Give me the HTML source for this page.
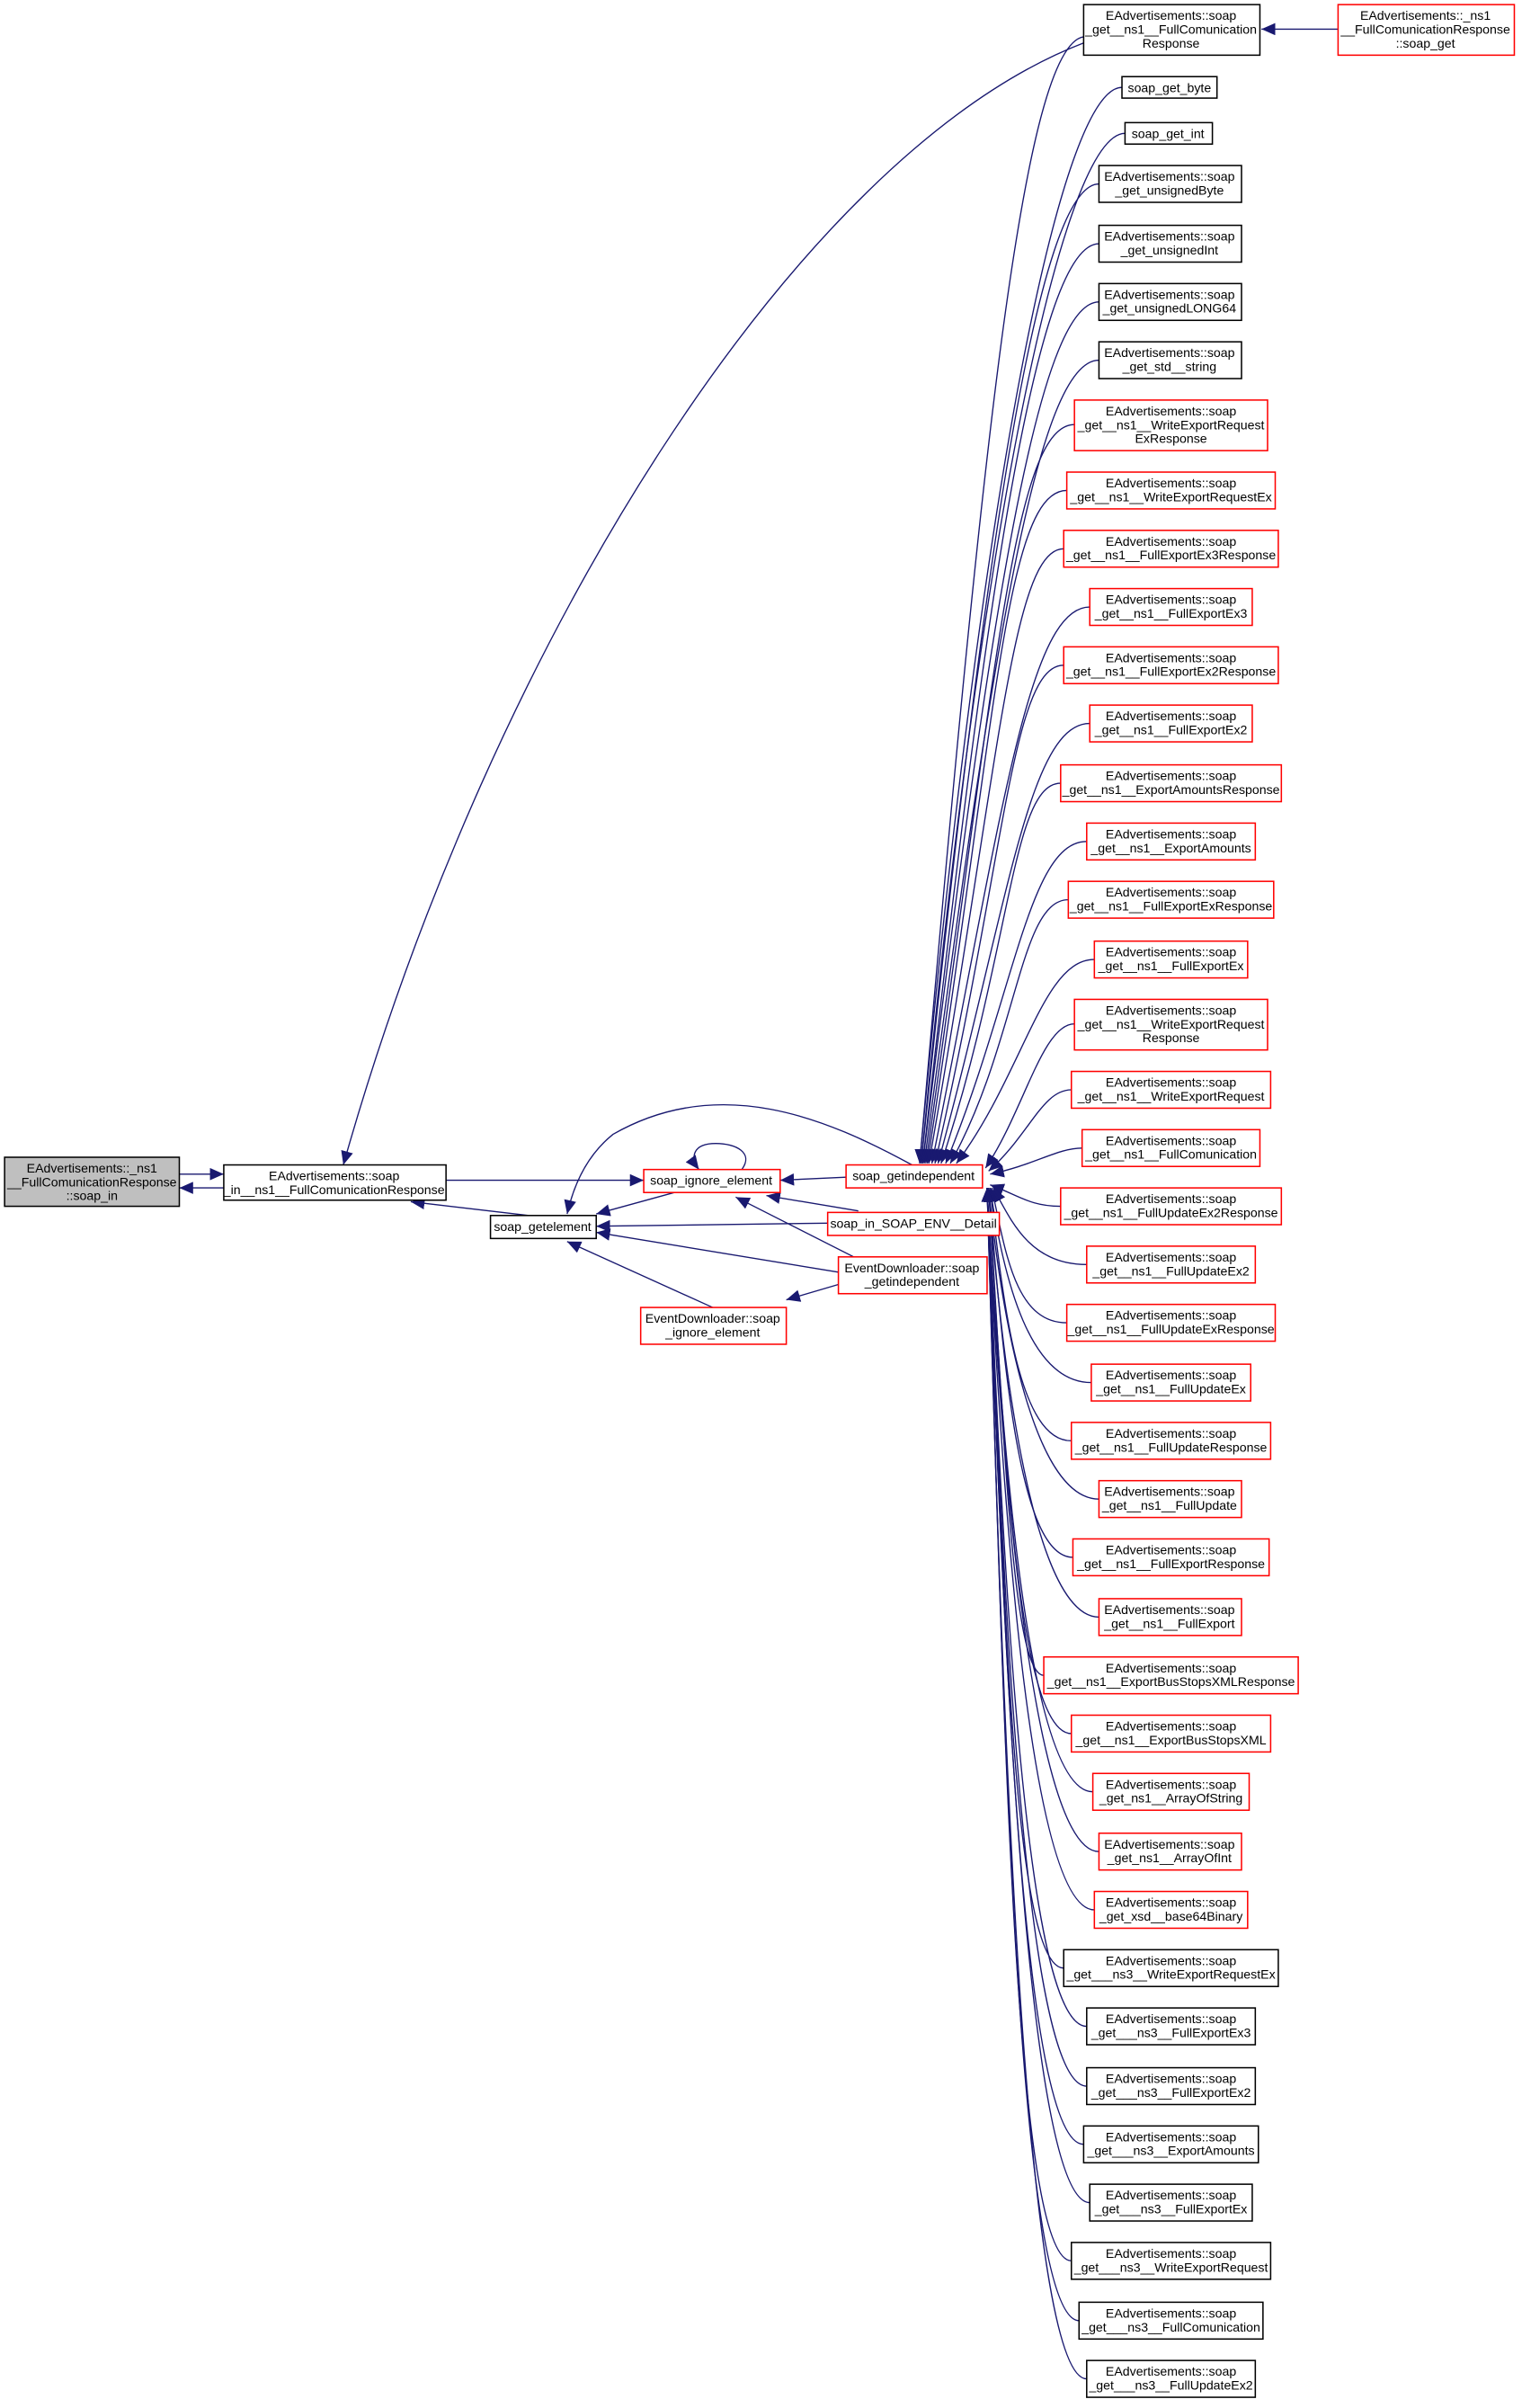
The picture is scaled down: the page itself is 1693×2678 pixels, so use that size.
<!DOCTYPE html>
<html><head><meta charset="utf-8"><style>
html,body{margin:0;padding:0;background:#fff;}
svg{display:block;}
text{font-family:"Liberation Sans",sans-serif;font-size:8.3px;fill:#000;text-anchor:middle;}
.b{fill:#fff;stroke:#000;stroke-width:0.9;}
.r{fill:#fff;stroke:#ff0000;stroke-width:0.9;}
.g{fill:#bfbfbf;stroke:#000;stroke-width:0.9;}
.e{fill:none;stroke:#191970;stroke-width:0.8;}
</style></head><body>
<svg width="1693" height="2678" viewBox="0 0 993 1571" preserveAspectRatio="none">
<defs><marker id="a" markerUnits="userSpaceOnUse" markerWidth="10" markerHeight="8" refX="9" refY="4" orient="auto"><path d="M0,0 L9,4 L0,8 z" fill="#191970"/></marker></defs>

<g class="e" marker-end="url(#a)">
<path d="M707,24 C667,30 640,300 600,759"/>
<path d="M732,57 C692,57 640,320 600,759"/>
<path d="M734,87 C694,87 640,340 601,759"/>
<path d="M717,120 C677,120 642,360 601,759"/>
<path d="M717,159 C677,159 644,380 602,759"/>
<path d="M717,197 C677,197 646,400 602,759"/>
<path d="M717,235 C677,235 648,420 603,759"/>
<path d="M701,277 C661,277 650,440 604,759"/>
<path d="M696,320 C656,320 650,470 605,759"/>
<path d="M694,358 C660,358 652,500 606,759"/>
<path d="M711,396 C671,396 654,530 608,759"/>
<path d="M694,434 C660,434 656,560 610,759"/>
<path d="M711,472 C671,472 658,590 612,759"/>
<path d="M692,511 C660,511 660,620 614,759"/>
<path d="M709,549 C671,549 662,650 617,759"/>
<path d="M697,587 C665,587 664,680 620,759"/>
<path d="M714,626 C680,626 668,700 624,759"/>
<path d="M701,668 C680,668 668,725 643,762"/>
<path d="M699,711 C680,711 672,740 645,764"/>
<path d="M706,749 C690,749 675,760 646,766"/>
<path d="M692,787 C672,787 665,780 646,773"/>
<path d="M709,825 C672,825 660,797 648,775"/>
<path d="M696,863 C662,863 656,816 647,775"/>
<path d="M712,902 C672,902 655,836 646,775"/>
<path d="M699,940 C665,940 655,855 646,775"/>
<path d="M717,978 C677,978 655,874 645,775"/>
<path d="M700,1016 C665,1016 655,893 645,775"/>
<path d="M717,1055 C677,1055 655,912 645,775"/>
<path d="M681,1093 C660,1093 655,931 645,775"/>
<path d="M699,1131 C665,1131 655,950 645,775"/>
<path d="M713,1169 C673,1169 655,969 644,775"/>
<path d="M717,1208 C677,1208 655,989 644,775"/>
<path d="M714,1246 C674,1246 655,1008 644,775"/>
<path d="M694,1284 C660,1284 655,1027 644,775"/>
<path d="M709,1322 C670,1322 655,1046 644,775"/>
<path d="M709,1361 C670,1361 655,1065 644,775"/>
<path d="M707,1399 C668,1399 655,1084 644,775"/>
<path d="M711,1437 C672,1437 655,1103 644,775"/>
<path d="M699,1475 C662,1475 655,1122 644,775"/>
<path d="M704,1514 C665,1514 655,1142 644,775"/>
<path d="M709,1552 C670,1552 655,1161 644,775"/>
</g>

<g class="e" marker-end="url(#a)">
<path d="M873,19 L823,19"/>
<path d="M707,28 C520,100 320,420 224,760"/>
<path d="M117,766 L146,766"/>
<path d="M146,775 L117,775"/>
<path d="M291,770 L420,770"/>
<path d="M345,793 L268,784"/>
<path d="M440,778 L389,792"/>
<path d="M552,768 L509,770"/>
<path d="M540,798 L389,800"/>
<path d="M560,790 L500,780"/>
<path d="M557,820 L480,781"/>
<path d="M547,830 L389,804"/>
<path d="M465,853 L370,810"/>
<path d="M547,838 L513,848"/>
<path d="M595,760 C540,730 470,700 400,740 C385,752 375,770 370,792"/>
<path d="M484,763 C492,752 480,746 467,746 C452,746 450,755 456,763"/>
</g>

<rect class="g" x="3" y="755" width="114" height="32"/>
<text x="60" y="765">EAdvertisements::_ns1</text><text x="60" y="774">__FullComunicationResponse</text><text x="60" y="783">::soap_in</text>

<rect class="b" x="146" y="760" width="145" height="23"/>
<text x="218" y="770">EAdvertisements::soap</text><text x="218" y="779">_in__ns1__FullComunicationResponse</text>

<rect class="b" x="320" y="793" width="69" height="15"/>
<text x="354" y="803">soap_getelement</text>

<rect class="r" x="420" y="763" width="89" height="15"/>
<text x="464" y="773">soap_ignore_element</text>

<rect class="r" x="552" y="760" width="89" height="15"/>
<text x="596" y="770">soap_getindependent</text>

<rect class="r" x="540" y="791" width="112" height="15"/>
<text x="596" y="801">soap_in_SOAP_ENV__Detail</text>

<rect class="r" x="547" y="820" width="97" height="24"/>
<text x="595" y="830">EventDownloader::soap</text><text x="595" y="839">_getindependent</text>

<rect class="r" x="418" y="853" width="95" height="24"/>
<text x="465" y="863">EventDownloader::soap</text><text x="465" y="872">_ignore_element</text>

<rect class="b" x="707" y="3" width="115" height="33"/>
<text x="764" y="13">EAdvertisements::soap</text><text x="764" y="22">_get__ns1__FullComunication</text><text x="764" y="31">Response</text>

<rect class="r" x="873" y="3" width="115" height="33"/>
<text x="930" y="13">EAdvertisements::_ns1</text><text x="930" y="22">__FullComunicationResponse</text><text x="930" y="31">::soap_get</text>

<rect class="b" x="732" y="50" width="62" height="14"/><text x="763" y="60">soap_get_byte</text>
<rect class="b" x="734" y="80" width="57" height="14"/><text x="762" y="90">soap_get_int</text>

<g>
<rect class="b" x="717" y="108" width="93" height="24"/><text x="763" y="118">EAdvertisements::soap</text><text x="763" y="127">_get_unsignedByte</text>
<rect class="b" x="717" y="147" width="93" height="24"/><text x="763" y="157">EAdvertisements::soap</text><text x="763" y="166">_get_unsignedInt</text>
<rect class="b" x="717" y="185" width="93" height="24"/><text x="763" y="195">EAdvertisements::soap</text><text x="763" y="204">_get_unsignedLONG64</text>
<rect class="b" x="717" y="223" width="93" height="24"/><text x="763" y="233">EAdvertisements::soap</text><text x="763" y="242">_get_std__string</text>

<rect class="r" x="701" y="261" width="126" height="33"/><text x="764" y="271">EAdvertisements::soap</text><text x="764" y="280">_get__ns1__WriteExportRequest</text><text x="764" y="289">ExResponse</text>
<rect class="r" x="696" y="308" width="136" height="24"/><text x="764" y="318">EAdvertisements::soap</text><text x="764" y="327">_get__ns1__WriteExportRequestEx</text>
<rect class="r" x="694" y="346" width="140" height="24"/><text x="764" y="356">EAdvertisements::soap</text><text x="764" y="365">_get__ns1__FullExportEx3Response</text>
<rect class="r" x="711" y="384" width="106" height="24"/><text x="764" y="394">EAdvertisements::soap</text><text x="764" y="403">_get__ns1__FullExportEx3</text>
<rect class="r" x="694" y="422" width="140" height="24"/><text x="764" y="432">EAdvertisements::soap</text><text x="764" y="441">_get__ns1__FullExportEx2Response</text>
<rect class="r" x="711" y="460" width="106" height="24"/><text x="764" y="470">EAdvertisements::soap</text><text x="764" y="479">_get__ns1__FullExportEx2</text>
<rect class="r" x="692" y="499" width="144" height="24"/><text x="764" y="509">EAdvertisements::soap</text><text x="764" y="518">_get__ns1__ExportAmountsResponse</text>
<rect class="r" x="709" y="537" width="110" height="24"/><text x="764" y="547">EAdvertisements::soap</text><text x="764" y="556">_get__ns1__ExportAmounts</text>
<rect class="r" x="697" y="575" width="134" height="24"/><text x="764" y="585">EAdvertisements::soap</text><text x="764" y="594">_get__ns1__FullExportExResponse</text>
<rect class="r" x="714" y="614" width="100" height="24"/><text x="764" y="624">EAdvertisements::soap</text><text x="764" y="633">_get__ns1__FullExportEx</text>
<rect class="r" x="701" y="652" width="126" height="33"/><text x="764" y="662">EAdvertisements::soap</text><text x="764" y="671">_get__ns1__WriteExportRequest</text><text x="764" y="680">Response</text>
<rect class="r" x="699" y="699" width="130" height="24"/><text x="764" y="709">EAdvertisements::soap</text><text x="764" y="718">_get__ns1__WriteExportRequest</text>
<rect class="r" x="706" y="737" width="116" height="24"/><text x="764" y="747">EAdvertisements::soap</text><text x="764" y="756">_get__ns1__FullComunication</text>
<rect class="r" x="692" y="775" width="144" height="24"/><text x="764" y="785">EAdvertisements::soap</text><text x="764" y="794">_get__ns1__FullUpdateEx2Response</text>
<rect class="r" x="709" y="813" width="110" height="24"/><text x="764" y="823">EAdvertisements::soap</text><text x="764" y="832">_get__ns1__FullUpdateEx2</text>
<rect class="r" x="696" y="851" width="136" height="24"/><text x="764" y="861">EAdvertisements::soap</text><text x="764" y="870">_get__ns1__FullUpdateExResponse</text>
<rect class="r" x="712" y="890" width="104" height="24"/><text x="764" y="900">EAdvertisements::soap</text><text x="764" y="909">_get__ns1__FullUpdateEx</text>
<rect class="r" x="699" y="928" width="130" height="24"/><text x="764" y="938">EAdvertisements::soap</text><text x="764" y="947">_get__ns1__FullUpdateResponse</text>
<rect class="r" x="717" y="966" width="93" height="24"/><text x="763" y="976">EAdvertisements::soap</text><text x="763" y="985">_get__ns1__FullUpdate</text>
<rect class="r" x="700" y="1004" width="128" height="24"/><text x="764" y="1014">EAdvertisements::soap</text><text x="764" y="1023">_get__ns1__FullExportResponse</text>
<rect class="r" x="717" y="1043" width="93" height="24"/><text x="763" y="1053">EAdvertisements::soap</text><text x="763" y="1062">_get__ns1__FullExport</text>
<rect class="r" x="681" y="1081" width="166" height="24"/><text x="764" y="1091">EAdvertisements::soap</text><text x="764" y="1100">_get__ns1__ExportBusStopsXMLResponse</text>
<rect class="r" x="699" y="1119" width="130" height="24"/><text x="764" y="1129">EAdvertisements::soap</text><text x="764" y="1138">_get__ns1__ExportBusStopsXML</text>
<rect class="r" x="713" y="1157" width="102" height="24"/><text x="764" y="1167">EAdvertisements::soap</text><text x="764" y="1176">_get_ns1__ArrayOfString</text>
<rect class="r" x="717" y="1196" width="93" height="24"/><text x="763" y="1206">EAdvertisements::soap</text><text x="763" y="1215">_get_ns1__ArrayOfInt</text>
<rect class="r" x="714" y="1234" width="100" height="24"/><text x="764" y="1244">EAdvertisements::soap</text><text x="764" y="1253">_get_xsd__base64Binary</text>
<rect class="b" x="694" y="1272" width="140" height="24"/><text x="764" y="1282">EAdvertisements::soap</text><text x="764" y="1291">_get___ns3__WriteExportRequestEx</text>
<rect class="b" x="709" y="1310" width="110" height="24"/><text x="764" y="1320">EAdvertisements::soap</text><text x="764" y="1329">_get___ns3__FullExportEx3</text>
<rect class="b" x="709" y="1349" width="110" height="24"/><text x="764" y="1359">EAdvertisements::soap</text><text x="764" y="1368">_get___ns3__FullExportEx2</text>
<rect class="b" x="707" y="1387" width="114" height="24"/><text x="764" y="1397">EAdvertisements::soap</text><text x="764" y="1406">_get___ns3__ExportAmounts</text>
<rect class="b" x="711" y="1425" width="106" height="24"/><text x="764" y="1435">EAdvertisements::soap</text><text x="764" y="1444">_get___ns3__FullExportEx</text>
<rect class="b" x="699" y="1463" width="130" height="24"/><text x="764" y="1473">EAdvertisements::soap</text><text x="764" y="1482">_get___ns3__WriteExportRequest</text>
<rect class="b" x="704" y="1502" width="120" height="24"/><text x="764" y="1512">EAdvertisements::soap</text><text x="764" y="1521">_get___ns3__FullComunication</text>
<rect class="b" x="709" y="1540" width="110" height="24"/><text x="764" y="1550">EAdvertisements::soap</text><text x="764" y="1559">_get___ns3__FullUpdateEx2</text>
</g>
</svg>
</body></html>
